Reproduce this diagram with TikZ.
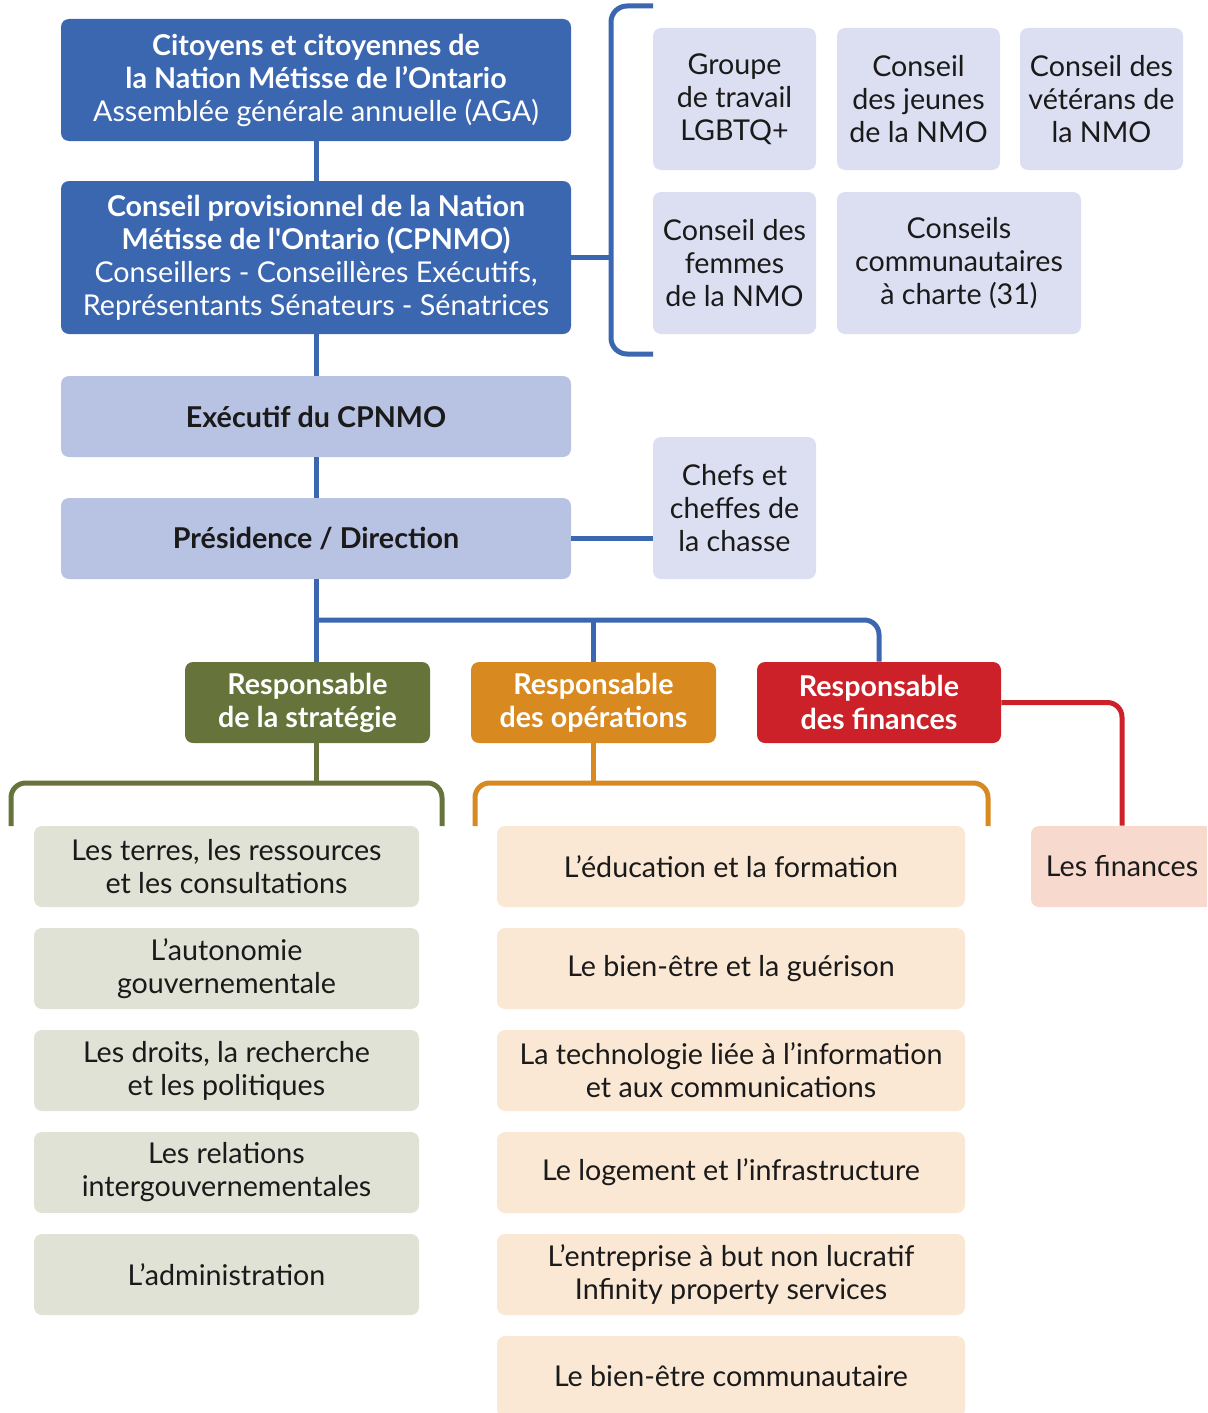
\documentclass[tikz,border=0pt]{standalone}
\usepackage{fontspec}
\setmainfont{Lato}[Ligatures=TeXOff]
\definecolor{cblue}{HTML}{3B67B1}
\definecolor{clav}{HTML}{B8C2E2}
\definecolor{clight}{HTML}{DCDFF1}
\definecolor{cgreen}{HTML}{66743B}
\definecolor{corange}{HTML}{D8891F}
\definecolor{cred}{HTML}{CC2128}
\definecolor{cgitem}{HTML}{E1E2D6}
\definecolor{coitem}{HTML}{FAE8D5}
\definecolor{cfin}{HTML}{F7D9CD}
\definecolor{ctext}{HTML}{1A1A1A}
\newcommand\fs{\fontsize{21.5}{24.75}\selectfont}
\tikzset{
  sz/.style 2 args={minimum width=#1*0.75pt, minimum height=#2*0.75pt},
  box/.style={rounded corners=6pt, inner sep=0pt, align=center, font=\fs, text=ctext},
  darkbox/.style={box, fill=cblue, text=white},
  lavbox/.style={box, fill=clav, font=\fs\bfseries},
  lightbox/.style={box, fill=clight},
  headbox/.style={box, fill=#1, text=white, font=\fs\bfseries},
  gitem/.style={box, fill=cgitem, sz={385}{81}},
  oitem/.style={box, fill=coitem, sz={468}{81}},
  conn/.style={draw=#1, line width=3.75pt},
}
\begin{document}
\begin{tikzpicture}[x=0.75pt,y=-0.75pt]
\useasboundingbox (0,0) rectangle (1207,1413);
\clip (0,0) rectangle (1207,1413);
% top column
\node[darkbox, sz={510}{122}] (b1) at (316,80) {\textbf{Citoyens et citoyennes de}\\\textbf{la Nation Métisse de l’Ontario}\\Assemblée générale annuelle (AGA)};
\node[darkbox, sz={510}{153}] (b2) at (316,257.5) {\textbf{Conseil provisionnel de la Nation}\\\textbf{Métisse de l'Ontario (CPNMO)}\\Conseillers - Conseillères Exécutifs,\\Représentants Sénateurs - Sénatrices};
\node[lavbox, sz={510}{81}] (b3) at (316,416.5) {Exécutif du CPNMO};
\node[lavbox, sz={510}{81}] (b4) at (316,538.5) {Présidence / Direction};
% side boxes
\node[lightbox, sz={163}{142}] (s1) at (734.5,99) {Groupe\\de travail\\LGBTQ+};
\node[lightbox, sz={163}{142}] (s2) at (918.5,99) {Conseil\\des jeunes\\de la NMO};
\node[lightbox, sz={163}{142}] (s3) at (1101.5,99) {Conseil des\\vétérans de\\la NMO};
\node[lightbox, sz={163}{142}] (s4) at (734.5,263) {Conseil des\\femmes\\de la NMO};
\node[lightbox, sz={244}{142}] (s5) at (959,263) {Conseils\\communautaires\\à charte (31)};
\node[lightbox, sz={163}{142}] (ch) at (734.5,508) {Chefs et\\cheffes de\\la chasse};
% heads
\node[headbox=cgreen, sz={245}{81}] (hg) at (307.5,702.5) {Responsable\\de la stratégie};
\node[headbox=corange, sz={245}{81}] (ho) at (593.5,702.5) {Responsable\\des opérations};
\node[headbox=cred, sz={244}{81}] (hr) at (879,702.5) {Responsable\\des finances};
% green items
\node[gitem] (g1) at (226.5,866.5) {Les terres, les ressources\\et les consultations};
\node[gitem] (g2) at (226.5,968.5) {L’autonomie\\gouvernementale};
\node[gitem] (g3) at (226.5,1070.5) {Les droits, la recherche\\et les politiques};
\node[gitem] (g4) at (226.5,1172.5) {Les relations\\intergouvernementales};
\node[gitem] (g5) at (226.5,1274.5) {L’administration};
% orange items
\node[oitem] (o1) at (731,866.5) {L’éducation et la formation};
\node[oitem] (o2) at (731,968.5) {Le bien-être et la guérison};
\node[oitem] (o3) at (731,1070.5) {La technologie liée à l’information\\et aux communications};
\node[oitem] (o4) at (731,1172.5) {Le logement et l’infrastructure};
\node[oitem] (o5) at (731,1274.5) {L’entreprise à but non lucratif\\Infinity property services};
\node[oitem] (o6) at (731,1376.5) {Le bien-être communautaire};
% finances
\node[box, fill=cfin, sz={182}{81}] (fin) at (1122,866.5) {Les finances};
% coordinates
\coordinate (brk) at (611,257.5);
\coordinate (btop) at (653,6);
\coordinate (bbot) at (653,354);
\coordinate (hj) at (316,620);
\coordinate (gj) at (316,783);
\coordinate (gl) at (11,826);
\coordinate (gr) at (442,826);
\coordinate (oj) at (593.5,783);
\coordinate (ol) at (475,826);
\coordinate (or) at (988,826);
% connectors
\path[conn=cblue] (b1) -- (b2);
\path[conn=cblue] (b2) -- (b3);
\path[conn=cblue] (b3) -- (b4);
\path[conn=cblue] (b2.east) -- (brk);
\path[conn=cblue, rounded corners=12pt] (btop) -| (bbot -| brk) -- (bbot);
\path[conn=cblue] (b4.east) -- (b4.east -| ch.west);
\path[conn=cblue] (b4.south) -- (b4.south |- hg.north);
\path[conn=cblue, rounded corners=11pt] (hj) -| (hr.north);
\path[conn=cblue] (ho.north |- hj) -- (ho.north);
\path[conn=cred, rounded corners=11pt] (hr.east) -| (fin.north);
\path[conn=cgreen] (hg.south -| gj) -- (gj);
\path[conn=cgreen, rounded corners=11pt] (gl) |- (gj) -| (gr);
\path[conn=corange] (ho.south) -- (oj);
\path[conn=corange, rounded corners=11pt] (ol) |- (oj) -| (or);
\end{tikzpicture}
\end{document}
